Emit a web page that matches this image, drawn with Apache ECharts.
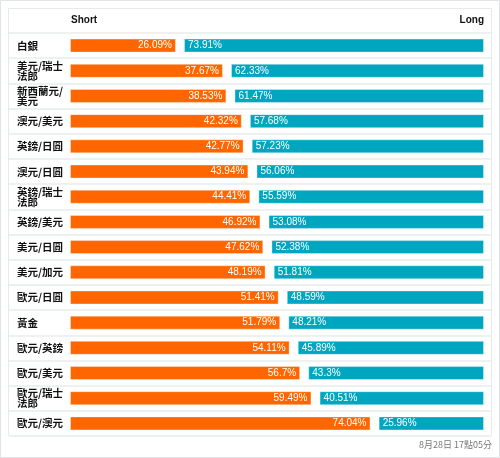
<!DOCTYPE html>
<html>
<head>
<meta charset="utf-8">
<script src="https://cdn.jsdelivr.net/npm/echarts@6/dist/echarts.min.js"></script>
<style>html,body{margin:0;padding:0;background:#fff}#c{width:500px;height:458px}</style>
</head>
<body>
<div id="c"></div>
<script>
const categories = ['白銀','美元/瑞士\n法郎','新西蘭元/\n美元','澳元/美元','英鎊/日圓','澳元/日圓','英鎊/瑞士\n法郎','英鎊/美元','美元/日圓','美元/加元','歐元/日圓','黃金','歐元/英鎊','歐元/美元','歐元/瑞士\n法郎','歐元/澳元'];
const shortValues = [26.09,37.67,38.53,42.32,42.77,43.94,44.41,46.92,47.62,48.19,51.41,51.79,54.11,56.7,59.49,74.04];
const longValues = [73.91,62.33,61.47,57.68,57.23,56.06,55.59,53.08,52.38,51.81,48.59,48.21,45.89,43.3,40.51,25.96];
const headerLeft = 'Short';
const headerRight = 'Long';
const footerText = '8月28日 17點05分';

const GAP = 2;
const gapValues = shortValues.map(() => GAP);
const font = 'Liberation Sans, Arial, sans-serif';
const cjk = '"Noto Sans CJK TC", "Noto Sans CJK SC", sans-serif';

const chart = echarts.init(document.getElementById('c'), null, {renderer: 'canvas'});
chart.setOption({
  animation: false,
  backgroundColor: '#ffffff',
  graphic: [
    {type: 'rect', z: -10, shape: {x: 0.5, y: 0.5, width: 499, height: 457}, style: {fill: '#ffffff', stroke: '#dfe5e5', lineWidth: 1}},
    {type: 'rect', z: -9, shape: {x: 8.5, y: 8.5, width: 483, height: 427}, style: {fill: '#ffffff', stroke: '#e6eaea', lineWidth: 1}},
    {type: 'text', left: 71, top: 15, style: {text: headerLeft, font: 'bold 10px ' + font, fill: '#111'}},
    {type: 'text', right: 16, top: 15, style: {text: headerRight, font: 'bold 10px ' + font, fill: '#111', textAlign: 'right'}},
    {type: 'text', right: 8, top: 440, style: {text: footerText, font: '9px ' + cjk, fill: '#777', textAlign: 'right'}}
  ],
  grid: [
    {left: 9, right: 9, top: 33, bottom: 22},
    {left: 70, right: 16, top: 33, bottom: 22}
  ],
  xAxis: [
    {gridIndex: 0, type: 'value', show: false, min: 0, max: 1},
    {gridIndex: 1, type: 'value', min: 0, max: 100 + GAP, show: false}
  ],
  yAxis: [
    {gridIndex: 0, type: 'category', data: categories, inverse: true,
     axisLine: {show: false}, axisTick: {show: false}, axisLabel: {show: false},
     splitLine: {show: true, lineStyle: {color: '#eef1f1', width: 2}}},
    {gridIndex: 1, type: 'category', data: categories, inverse: true,
     axisLine: {show: false}, axisTick: {show: false}, splitLine: {show: false},
     axisLabel: {align: 'left', margin: 53, fontSize: 10.5, fontWeight: 'bold', lineHeight: 10, color: '#111', fontFamily: cjk}}
  ],
  series: [
    {type: 'bar', name: 'Short', xAxisIndex: 1, yAxisIndex: 1, stack: 'a', barWidth: 14, data: shortValues,
     itemStyle: {color: '#ff6600', borderColor: 'rgba(255,255,255,0.35)', borderWidth: 1},
     label: {show: true, position: 'insideRight', distance: 4, color: '#fff', fontSize: 10, fontFamily: font, formatter: p => p.value + '%'}},
    {type: 'bar', name: 'gap', xAxisIndex: 1, yAxisIndex: 1, stack: 'a', barWidth: 14, data: gapValues, silent: true,
     itemStyle: {color: 'rgba(0,0,0,0)'}, label: {show: false}},
    {type: 'bar', name: 'Long', xAxisIndex: 1, yAxisIndex: 1, stack: 'a', barWidth: 14, data: longValues,
     itemStyle: {color: '#00a6bf', borderColor: 'rgba(255,255,255,0.35)', borderWidth: 1},
     label: {show: true, position: 'insideLeft', distance: 4, color: '#fff', fontSize: 10, fontFamily: font, formatter: p => p.value + '%'}}
  ]
});
</script>
</body>
</html>
